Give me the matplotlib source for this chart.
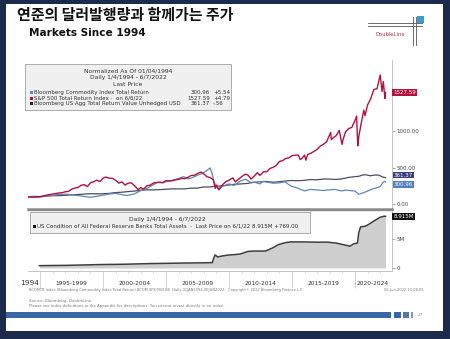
import matplotlib
matplotlib.use('Agg')
import matplotlib.pyplot as plt
from matplotlib.patches import Rectangle
from matplotlib.lines import Line2D
from matplotlib import transforms

# ---- data (normalized to 100 on 01/04/1994) ----
sp_years = [1994.0, 1994.25, 1994.5, 1994.75, 1995.0, 1995.25, 1995.5, 1995.75,
            1996.0, 1996.25, 1996.5, 1996.75, 1997.0, 1997.25, 1997.5, 1997.75,
            1998.0, 1998.25, 1998.5, 1998.75, 1999.0, 1999.25, 1999.5, 1999.75,
            2000.0, 2000.2, 2000.5, 2000.75, 2001.0, 2001.25, 2001.5, 2001.75,
            2002.0, 2002.25, 2002.5, 2002.78, 2003.0, 2003.2, 2003.5, 2003.75,
            2004.0, 2004.25, 2004.5, 2004.75, 2005.0, 2005.25, 2005.5, 2005.75,
            2006.0, 2006.25, 2006.5, 2006.75, 2007.0, 2007.25, 2007.5, 2007.78,
            2008.0, 2008.25, 2008.5, 2008.75, 2008.9, 2009.0, 2009.19, 2009.5,
            2009.75, 2010.0, 2010.3, 2010.5, 2010.75, 2011.0, 2011.3, 2011.5,
            2011.75, 2012.0, 2012.25, 2012.45, 2012.75, 2013.0, 2013.25, 2013.5,
            2013.75, 2014.0, 2014.25, 2014.5, 2014.75, 2015.0, 2015.25, 2015.5,
            2015.65, 2015.8, 2016.0, 2016.1, 2016.25, 2016.5, 2016.75, 2017.0,
            2017.25, 2017.5, 2017.75, 2018.07, 2018.12, 2018.25, 2018.5, 2018.75,
            2018.97, 2019.05, 2019.25, 2019.5, 2019.75, 2020.0, 2020.13, 2020.22,
            2020.3, 2020.5, 2020.7, 2020.8, 2021.0, 2021.25, 2021.5, 2021.75,
            2022.0, 2022.15, 2022.25, 2022.38, 2022.43]
sp_values = [100, 96.0, 96.2, 100.8, 100.4, 110.2, 120.4, 129.6,
             137.4, 144.6, 151.1, 155.5, 168.5, 173.0, 203.2, 218.5,
             224.8, 256.8, 265.5, 239.2, 290.5, 305.4, 327.7, 307.7,
             354.0, 369.4, 354.0, 351.3, 324.3, 286.4, 303.7, 259.5,
             287.6, 288.7, 250.4, 197.7, 224.8, 205.0, 251.4, 258.1,
             289.5, 294.6, 299.9, 294.5, 321.7, 315.0, 319.2, 331.0,
             337.7, 352.1, 347.0, 366.7, 391.1, 393.9, 418.6, 438.5,
             412.8, 373.9, 363.5, 332.7, 215.0, 258.9, 194.8, 266.1,
             307.5, 325.9, 358.0, 304.2, 338.4, 374.9, 409.0, 397.5,
             342.0, 382.2, 429.9, 392.0, 444.1, 441.6, 488.3, 502.2,
             528.7, 583.6, 594.0, 625.0, 631.8, 662.8, 669.0, 670.7,
             609.0, 627.1, 670.8, 601.0, 679.4, 695.6, 721.9, 749.2,
             794.4, 818.7, 855.2, 980.0, 882.0, 905.3, 936.1, 1008.5,
             817.0, 880.0, 990.5, 1033.2, 1050.6, 1145.7, 1204.4, 797.3,
             921.0, 1109.8, 1287.0, 1210.0, 1357.8, 1443.4, 1569.2, 1580.2,
             1767.8, 1541.0, 1677.5, 1446.0, 1527.59]

comm_years = [1994.0, 1994.5, 1995.0, 1995.5, 1996.0, 1996.4, 1997.0, 1997.5,
              1998.0, 1998.5, 1998.95, 1999.5, 2000.0, 2000.5, 2001.0, 2001.5,
              2001.9, 2002.5, 2003.0, 2003.5, 2004.0, 2004.3, 2004.75, 2005.0,
              2005.5, 2005.9, 2006.4, 2006.75, 2007.0, 2007.5, 2007.9, 2008.2,
              2008.5, 2008.65, 2008.8, 2009.0, 2009.15, 2009.5, 2010.0, 2010.4,
              2010.9, 2011.3, 2011.5, 2011.75, 2012.0, 2012.45, 2012.7, 2013.0,
              2013.5, 2014.0, 2014.45, 2014.75, 2015.0, 2015.35, 2015.7, 2016.0,
              2016.45, 2016.9, 2017.45, 2018.0, 2018.4, 2018.9, 2019.3, 2019.75,
              2020.0, 2020.3, 2020.5, 2020.9, 2021.3, 2021.75, 2022.0, 2022.2,
              2022.35, 2022.43]
comm_values = [100, 106, 104, 109, 118, 130, 136, 126,
               117, 104, 92, 106, 122, 138, 146, 128,
               116, 140, 185, 215, 265, 295, 290, 305,
               325, 345, 375, 345, 355, 395, 420, 455,
               495, 420, 310, 235, 205, 245, 275, 255,
               315, 340, 320, 290, 300, 275, 310, 300,
               285, 290, 305, 265, 240, 225, 200, 180,
               200, 195, 185, 195, 200, 180, 190, 182,
               178, 132, 145, 170, 200, 225, 240, 290,
               312, 300.96]

agg_years = [1994.0, 1994.4, 1994.9, 1995.5, 1995.9, 1996.5, 1996.9, 1997.5,
             1997.9, 1998.5, 1998.9, 1999.5, 1999.9, 2000.5, 2000.9, 2001.5,
             2001.9, 2002.5, 2002.9, 2003.5, 2003.9, 2004.5, 2004.9, 2005.5,
             2005.9, 2006.5, 2006.9, 2007.5, 2007.9, 2008.5, 2008.9, 2009.5,
             2009.9, 2010.5, 2010.9, 2011.5, 2011.9, 2012.5, 2012.9, 2013.5,
             2013.9, 2014.5, 2014.9, 2015.5, 2015.9, 2016.5, 2016.9, 2017.5,
             2017.9, 2018.5, 2018.9, 2019.5, 2019.9, 2020.3, 2020.6, 2020.9,
             2021.2, 2021.6, 2021.9, 2022.2, 2022.43]
agg_values = [100, 95, 96, 108, 114, 115, 119, 125,
              130, 136, 141, 140, 140, 146, 156, 162,
              169, 178, 187, 195, 194, 197, 202, 208,
              207, 208, 216, 219, 232, 234, 244, 249,
              259, 272, 275, 283, 297, 304, 310, 299,
              304, 316, 322, 320, 323, 336, 331, 342,
              343, 337, 343, 365, 373, 380, 398, 401,
              387, 398, 395, 370, 361.37]

# Fed total assets, in M (millions of millions of USD)
fed_years = [1994.95, 1996.0, 1997.0, 1998.0, 1999.0, 2000.0, 2001.0, 2002.0,
             2003.0, 2004.0, 2005.0, 2006.0, 2007.0, 2008.0, 2008.68, 2008.75,
             2008.9, 2009.1, 2009.4, 2009.9, 2010.5, 2010.9, 2011.5, 2012.0,
             2012.9, 2013.5, 2013.9, 2014.5, 2014.9, 2016.0, 2017.0, 2017.8,
             2018.5, 2019.0, 2019.6, 2019.9, 2020.2, 2020.3, 2020.45, 2020.8,
             2021.0, 2021.5, 2022.0, 2022.3, 2022.43]
fed_values = [0.40, 0.43, 0.45, 0.50, 0.55, 0.60, 0.62, 0.66,
              0.72, 0.77, 0.80, 0.84, 0.87, 0.89, 0.93, 1.50,
              2.25, 1.90, 2.05, 2.22, 2.32, 2.42, 2.85, 2.92,
              2.92, 3.50, 4.02, 4.38, 4.50, 4.49, 4.45, 4.46,
              4.30, 4.06, 3.76, 4.17, 4.30, 6.10, 7.10, 7.20,
              7.40, 8.10, 8.75, 8.92, 8.915]

period_labels = ['1995-1999', '2000-2004', '2005-2009', '2010-2014', '2015-2019', '2020-2024']
period_centers = [1997.5, 2002.5, 2007.5, 2012.5, 2017.5, 2021.4]
dividers = [1995, 2000, 2005, 2010, 2015, 2020]

RED = '#b3123e'
BLUE = '#5e87b3'
AGG = '#4a4d63'

W, H = 450, 339
fig = plt.figure(figsize=(4.5, 3.39), dpi=100, facecolor='#1c2b4c')


def fx(x):
    return x / W


def fy(y):
    return 1 - y / H


def box(x0, y0, x1, y1, **kw):
    r = Rectangle((fx(x0), fy(y1)), fx(x1) - fx(x0), fy(y0) - fy(y1),
                  transform=fig.transFigure, **kw)
    fig.add_artist(r)
    return r


def line(xs, ys, **kw):
    fig.add_artist(Line2D([fx(v) for v in xs], [fy(v) for v in ys],
                          transform=fig.transFigure, **kw))


# white slide on dark background
box(6, 4, 443, 331, facecolor='white', edgecolor='none', zorder=-5)

fig.text(fx(17), fy(15), '연준의 달러발행량과 함께가는 주가',
         family=['Noto Sans CJK KR', 'DejaVu Sans'], fontsize=10.8,
         weight='bold', va='center', ha='left', color='#111111')
fig.text(fx(29), fy(33), 'Markets Since 1994', fontsize=7.6, weight='bold',
         va='center', ha='left', color='#111111')

# DoubleLine logo
line([368, 422], [23, 23], color='#555555', lw=0.6)
line([368, 422], [26, 26], color='#555555', lw=0.6)
line([413, 413], [17, 45], color='#555555', lw=0.6)
line([416, 416], [17, 45], color='#555555', lw=0.6)
box(417, 16, 424, 23, facecolor='#3a9bd0', edgecolor='none')
fig.text(fx(390), fy(35), 'DoubleLine', fontsize=3.8, color='#b23a4c',
         ha='center', va='center')

# ---- top panel ----
ax1 = fig.add_axes([fx(27.5), fy(209), fx(392) - fx(27.5), fy(60) - fy(209)])
ax1.set_facecolor('none')
ax1.plot(agg_years, agg_values, color=AGG, lw=0.9)
ax1.plot(comm_years, comm_values, color=BLUE, lw=0.9)
ax1.plot(sp_years, sp_values, color=RED, lw=1.0)
ax1.set_xlim(1994.0, 2022.94)
ax1.set_ylim(-68, 1973)
for s in ['left', 'top']:
    ax1.spines[s].set_visible(False)
ax1.spines['right'].set_color('#bbbbbb')
ax1.spines['right'].set_linewidth(0.6)
ax1.spines['bottom'].set_color('#8a8a8a')
ax1.spines['bottom'].set_linewidth(1.8)
ax1.set_xticks([])
ax1.yaxis.tick_right()
ax1.set_yticks([0, 500, 1000])
ax1.set_yticklabels(['0.00', '500.00', '1000.00'])
ax1.tick_params(axis='y', length=2, width=0.5, color='#888888', labelsize=4,
                labelcolor='#444444', pad=1)

tr1 = transforms.blended_transform_factory(ax1.transAxes, ax1.transData)
ax1.text(1.004, sp_values[-1], '%.2f' % sp_values[-1], transform=tr1, fontsize=4,
         color='white', va='center', ha='left',
         bbox=dict(facecolor=RED, edgecolor='none', pad=0.8))
ax1.annotate('%.2f' % agg_values[-1], xy=(1.004, agg_values[-1]), xycoords=tr1,
             xytext=(0, 1.8), textcoords='offset points', fontsize=4, color='white',
             va='center', ha='left', annotation_clip=False,
             bbox=dict(facecolor='#3a3f7c', edgecolor='none', pad=0.6))
ax1.annotate('%.2f' % comm_values[-1], xy=(1.004, comm_values[-1]), xycoords=tr1,
             xytext=(0, -1.8), textcoords='offset points', fontsize=4, color='white',
             va='center', ha='left', annotation_clip=False,
             bbox=dict(facecolor='#4f7fbf', edgecolor='none', pad=0.6))

# ---- bottom panel ----
ax2 = fig.add_axes([fx(27.5), fy(271), fx(392) - fx(27.5), fy(210) - fy(271)])
ax2.set_facecolor('none')
ax2.fill_between(fed_years, fed_values, 0, color='#cfcfcf', lw=0)
ax2.plot(fed_years, fed_values, color='#3d3d3d', lw=1.1)
ax2.set_xlim(1994.0, 2022.94)
ax2.set_ylim(-0.52, 10.0)
ax2.spines['left'].set_visible(False)
ax2.spines['top'].set_color('#8a8a8a')
ax2.spines['top'].set_linewidth(1.0)
ax2.spines['right'].set_color('#bbbbbb')
ax2.spines['right'].set_linewidth(0.6)
ax2.spines['bottom'].set_color('#bbbbbb')
ax2.spines['bottom'].set_linewidth(0.6)
ax2.yaxis.tick_right()
ax2.set_yticks([0, 5])
ax2.set_yticklabels(['0', '5M'])
ax2.tick_params(axis='y', length=2, width=0.5, color='#888888', labelsize=4,
                labelcolor='#444444', pad=1)
ax2.set_xticks(dividers)
ax2.set_xticklabels([])
ax2.set_xticks(range(1995, 2023), minor=True)
ax2.tick_params(axis='x', which='major', length=12, width=0.6, color='#cccccc')
ax2.tick_params(axis='x', which='minor', length=1.5, width=0.4, color='#bbbbbb')

tr2 = transforms.blended_transform_factory(ax2.transData, ax2.transAxes)
for c, lab in zip(period_centers, period_labels):
    ax2.text(c, -0.2, lab, transform=tr2, fontsize=4.2, color='#333333',
             ha='center', va='center')
fig.text(fx(30), fy(283), '1994', fontsize=5.4, color='#333333',
         ha='center', va='center')

tr2y = transforms.blended_transform_factory(ax2.transAxes, ax2.transData)
ax2.text(1.004, fed_values[-1], '%.3fM' % fed_values[-1], transform=tr2y,
         fontsize=4, color='white', va='center', ha='left',
         bbox=dict(facecolor='#111111', edgecolor='none', pad=0.8))

# ---- legend boxes ----
box(25, 64, 231, 110, facecolor='#f0f0f0', edgecolor='#a0a0a0', lw=0.6, zorder=5)
for yy, t in [(71, 'Normalized As Of 01/04/1994'), (77.7, 'Daily 1/4/1994 - 6/7/2022'),
              (84.3, 'Last Price')]:
    fig.text(fx(128), fy(yy), t, fontsize=4.3, color='#333333', ha='center',
             va='center', zorder=6)
rows = [('Bloomberg Commodity Index Total Return', comm_values[-1], '+5.54', BLUE),
        ('S&P 500 Total Return Index -  on 6/6/22', sp_values[-1], '+4.79', RED),
        ('Bloomberg US Agg Total Return Value Unhedged USD', agg_values[-1], '-.56', '#222222')]
for yy, (name, val, chg, col) in zip([92.7, 98.3, 103.7], rows):
    box(30, yy - 1.5, 33, yy + 1.5, facecolor=col, edgecolor='none', zorder=6)
    fig.text(fx(34.5), fy(yy), name, fontsize=4, color='#333333', ha='left',
             va='center', zorder=6)
    fig.text(fx(210), fy(yy), '%.2f' % val, fontsize=4, color='#333333',
             ha='right', va='center', zorder=6)
    fig.text(fx(213), fy(yy), chg, fontsize=4, color='#333333', ha='left',
             va='center', zorder=6)

box(30, 212, 310, 233, facecolor='#f0f0f0', edgecolor='#a0a0a0', lw=0.6, zorder=5)
fig.text(fx(167), fy(219), 'Daily 1/4/1994 - 6/7/2022', fontsize=4.3, color='#333333',
         ha='center', va='center', zorder=6)
box(33, 225, 36, 228, facecolor='#111111', edgecolor='none', zorder=6)
fig.text(fx(37), fy(226.5),
         'US Condition of All Federal Reserve Banks Total Assets  -  Last Price on 6/1/22 8.915M +769.00',
         fontsize=4, color='#333333', ha='left', va='center', zorder=6)

# ---- footer ----
fig.text(fx(29), fy(290), 'BCOMTR Index (Bloomberg Commodity Index Total Return) BCOM SPX FED BS  Daily 01JAN1994-06JUN2022',
         fontsize=2.6, color='#777777', ha='left', va='center')
fig.text(fx(265), fy(290), 'Copyright\u00a9 2022 Bloomberg Finance L.P.', fontsize=2.6,
         color='#777777', ha='center', va='center')
fig.text(fx(424), fy(290), '06-Jun-2022 10:08:05', fontsize=2.6, color='#777777',
         ha='right', va='center')
fig.text(fx(29), fy(301), 'Source: Bloomberg, DoubleLine', fontsize=2.8,
         color='#777777', ha='left', va='center')
fig.text(fx(29), fy(306.5),
         'Please see index definitions in the Appendix for descriptions. You cannot invest directly in an index.',
         fontsize=2.8, color='#777777', ha='left', va='center')

box(6, 312, 391, 318, facecolor='#3a66a8', edgecolor='none')
box(394, 312, 401, 318, facecolor='#3a66a8', edgecolor='none')
box(403, 312, 409, 318, facecolor='#5577aa', edgecolor='none')
box(411, 312, 413, 318, facecolor='#7f98c0', edgecolor='none')
fig.text(fx(420), fy(315.5), '27', fontsize=3.2, color='#999999', ha='center',
         va='center')

fig.savefig('out.png', dpi=100, facecolor=fig.get_facecolor())
